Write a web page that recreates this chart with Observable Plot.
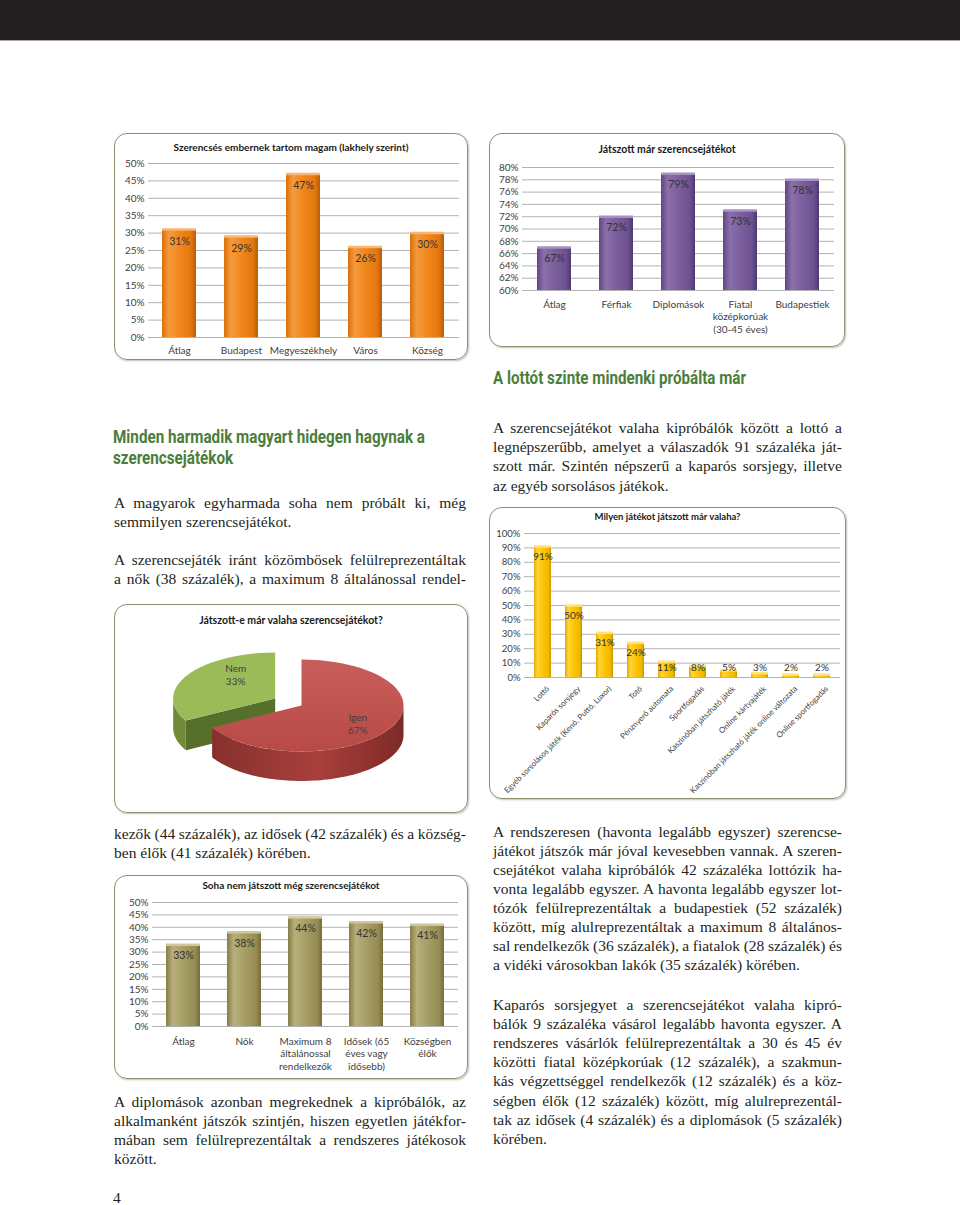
<!DOCTYPE html>
<html><head><meta charset="utf-8">
<script src="https://cdn.jsdelivr.net/npm/d3@7"></script>
<script src="https://cdn.jsdelivr.net/npm/@observablehq/plot@0.6"></script>
<style>
html,body{margin:0;padding:0;background:#fff;}
#page{position:relative;width:960px;height:1205px;overflow:hidden;background:#fff;}
#topbar{position:absolute;left:0;top:0;width:960px;height:40px;background:#231f20;border-bottom:1px solid #aaa;}
.box{position:absolute;}
.frame{position:absolute;left:0;top:0;right:0;bottom:0;border:1.6px solid #8f8f6c;border-radius:13px;box-shadow:1px 1px 2px rgba(0,0,0,.25);}
.ctitle{position:absolute;left:0;right:0;text-align:center;font-family:Lato,sans-serif;font-weight:bold;color:#1a1a1a;line-height:14px;white-space:nowrap;}
.box svg{position:absolute;left:0;top:0;}
.heading{position:absolute;font-family:"Liberation Sans Narrow",Roboto,sans-serif;font-weight:bold;font-size:18px;color:#4c7d3a;line-height:21px;white-space:nowrap;transform-origin:0 0;}
.para{position:absolute;font-family:"Liberation Serif",serif;font-size:15.5px;line-height:19.2px;color:#231f20;}
.para div{white-space:nowrap;text-align:left;}
</style></head>
<body>
<svg width="0" height="0" style="position:absolute">
<defs>
<linearGradient id="gOrange" x1="0" x2="1" y1="0" y2="0">
<stop offset="0" stop-color="#d9700c"/><stop offset="0.2" stop-color="#f59a3c"/><stop offset="0.55" stop-color="#f08519"/><stop offset="0.85" stop-color="#e2780f"/><stop offset="1" stop-color="#b85c06"/></linearGradient>
<linearGradient id="gPurple" x1="0" x2="1" y1="0" y2="0">
<stop offset="0" stop-color="#5f4683"/><stop offset="0.2" stop-color="#8a6fab"/><stop offset="0.55" stop-color="#7a5e9c"/><stop offset="0.85" stop-color="#6c5090"/><stop offset="1" stop-color="#4f3a70"/></linearGradient>
<linearGradient id="gYellow" x1="0" x2="1" y1="0" y2="0">
<stop offset="0" stop-color="#e0aa00"/><stop offset="0.2" stop-color="#ffd43a"/><stop offset="0.55" stop-color="#fcc400"/><stop offset="0.85" stop-color="#f0b800"/><stop offset="1" stop-color="#c99400"/></linearGradient>
<linearGradient id="gOlive" x1="0" x2="1" y1="0" y2="0">
<stop offset="0" stop-color="#857c46"/><stop offset="0.2" stop-color="#b8b07c"/><stop offset="0.55" stop-color="#a59c63"/><stop offset="0.85" stop-color="#968d56"/><stop offset="1" stop-color="#756c3a"/></linearGradient>
<linearGradient id="gRedTop" x1="0" x2="0" y1="0" y2="1">
<stop offset="0" stop-color="#c85e5a"/><stop offset="1" stop-color="#b84a46"/></linearGradient>
<linearGradient id="gRedWall" x1="0" x2="1" y1="0" y2="0">
<stop offset="0" stop-color="#86302d"/><stop offset="0.55" stop-color="#a8403c"/><stop offset="1" stop-color="#7e2a27"/></linearGradient>
</defs></svg>
<div id="page"><div id="topbar"></div></div>
<script>
// ================= DATA =================
const c1Title = "Szerencsés embernek tartom magam (lakhely szerint)";
const c1Cats = ["Átlag", "Budapest", "Megyeszékhely", "Város", "Község"];
const c1Vals = [0.31, 0.29, 0.47, 0.26, 0.30];
const c1Ticks = [0, 0.05, 0.10, 0.15, 0.20, 0.25, 0.30, 0.35, 0.40, 0.45, 0.50];

const c2Title = "Játszott már szerencsejátékot";
const c2Cats = ["Átlag", "Férfiak", "Diplomások", "Fiatal\nközépkorúak\n(30-45 éves)", "Budapestiek"];
const c2Vals = [0.67, 0.72, 0.79, 0.73, 0.78];
const c2Ticks = [0.60, 0.62, 0.64, 0.66, 0.68, 0.70, 0.72, 0.74, 0.76, 0.78, 0.80];

const c3Title = "Játszott-e már valaha szerencsejátékot?";
const c3Cats = ["Igen", "Nem"];
const c3Vals = [0.67, 0.33];

const c4Title = "Milyen játékot játszott már valaha?";
const c4Cats = ["Lottó", "Kaparós sorsjegy", "Egyéb sorsolásos játék (Kenó, Puttó, Luxor)", "Totó",
  "Pénznyerő automata", "Sportfogadás", "Kaszinóban játszható játék", "Online kártyajáték",
  "Kaszinóban játszható játék online változata", "Online sportfogadás"];
const c4Vals = [0.91, 0.50, 0.31, 0.24, 0.11, 0.08, 0.05, 0.03, 0.02, 0.02];
const c4Ticks = [0, 0.1, 0.2, 0.3, 0.4, 0.5, 0.6, 0.7, 0.8, 0.9, 1.0];

const c5Title = "Soha nem játszott még  szerencsejátékot";
const c5Cats = ["Átlag", "Nők", "Maximum 8\náltalánossal\nrendelkezők", "Idősek (65\néves vagy\nidősebb)", "Községben\nélők"];
const c5Vals = [0.33, 0.38, 0.44, 0.42, 0.41];
const c5Ticks = [0, 0.05, 0.10, 0.15, 0.20, 0.25, 0.30, 0.35, 0.40, 0.45, 0.50];

const headLeft = ["Minden harmadik magyart hidegen hagynak a", "szerencsejátékok"];
const headRight = ["A lottót szinte mindenki próbálta már"];
const pL1 = ["A magyarok egyharmada soha nem próbált ki, még", "semmilyen szerencsejátékot."];
const pL2 = ["A szerencsejáték iránt közömbösek felülreprezentáltak", "a nők (38 százalék), a maximum 8 általánossal rendel-"];
const pL2b = ["kezők (44 százalék), az idősek (42 százalék) és a község-", "ben élők (41 százalék) körében."];
const pL3 = ["A diplomások azonban megrekednek a kipróbálók, az", "alkalmanként játszók szintjén, hiszen egyetlen játékfor-",
  "mában sem felülreprezentáltak a rendszeres játékosok", "között."];
const pR1 = ["A szerencsejátékot valaha kipróbálók között a lottó a", "legnépszerűbb, amelyet a válaszadók 91 százaléka ját-",
  "szott már. Szintén népszerű a kaparós sorsjegy, illetve", "az egyéb sorsolásos játékok."];
const pR2 = ["A rendszeresen (havonta legalább egyszer) szerencse-", "játékot játszók már jóval kevesebben vannak. A szeren-",
  "csejátékot valaha kipróbálók 42 százaléka lottózik ha-", "vonta legalább egyszer. A havonta legalább egyszer lot-",
  "tózók felülreprezentáltak a budapestiek (52 százalék)", "között, míg alulreprezentáltak a maximum 8 általános-",
  "sal rendelkezők (36 százalék), a fiatalok (28 százalék) és", "a vidéki városokban lakók (35 százalék) körében."];
const pR3 = ["Kaparós sorsjegyet a szerencsejátékot valaha kipró-", "bálók 9 százaléka vásárol legalább havonta egyszer. A",
  "rendszeres vásárlók felülreprezentáltak a 30 és 45 év", "közötti fiatal középkorúak (12 százalék), a szakmun-",
  "kás végzettséggel rendelkezők (12 százalék) és a köz-", "ségben élők (12 százalék) között, míg alulreprezentál-",
  "tak az idősek (4 százalék) és a diplomások (5 százalék)", "körében."];
const pageNum = "4";

// ================= HELPERS =================
const page = document.getElementById("page");
const pct = d3.format(".0%");

function makeBox(left, top, w, h) {
  const box = document.createElement("div");
  box.className = "box";
  Object.assign(box.style, {left: left + "px", top: top + "px", width: w + "px", height: h + "px"});
  const fr = document.createElement("div"); fr.className = "frame"; box.appendChild(fr);
  page.appendChild(box);
  return box;
}
function addTitle(box, title, titleY, titleSize) {
  const t = document.createElement("div");
  t.className = "ctitle"; t.textContent = title;
  t.style.top = (titleY - 7) + "px"; t.style.fontSize = titleSize + "px";
  box.appendChild(t);
}
function boxLabels(svg, name, fill, px, py) {
  svg.querySelectorAll(`g[aria-label="${name}"] text`).forEach(t => {
    const b = t.getBBox();
    const r = document.createElementNS("http://www.w3.org/2000/svg", "rect");
    r.setAttribute("x", b.x - px); r.setAttribute("y", b.y - py);
    r.setAttribute("width", b.width + 2 * px); r.setAttribute("height", b.height + 2 * py);
    r.setAttribute("fill", fill);
    if (t.getAttribute("transform")) r.setAttribute("transform", t.getAttribute("transform"));
    t.parentNode.insertBefore(r, t);
  });
}

function barChart(o) {
  const box = makeBox(o.left, o.top, o.w, o.h);
  const data = o.cats.map((c, i) => ({c, v: o.vals[i]}));
  const y0 = o.yDomain[0];
  const xLabels = o.rotate
    ? Plot.text(o.cats, {x: d => d, y: y0, rotate: -45, textAnchor: "end", dx: o.xdx, dy: o.xdy, fontSize: o.xfs, fill: "#404040"})
    : Plot.text(o.cats, {x: d => d, y: y0, dy: o.xdy, lineAnchor: "top", lineHeight: 1.22, fontSize: o.xfs, fill: "#404040"});
  const svg = Plot.plot({
    width: o.w, height: o.h,
    marginTop: o.mt, marginBottom: o.mb, marginLeft: o.ml, marginRight: o.mr,
    style: {fontFamily: "Lato, sans-serif", fontSize: o.fs + "px", color: "#404040", background: "transparent", overflow: "visible"},
    x: {type: "band", domain: o.cats, paddingInner: o.pad, paddingOuter: o.pad / 2, axis: null},
    y: {domain: o.yDomain, axis: null},
    marks: [
      Plot.ruleY(o.ticks, {stroke: "#b2b2b2", strokeWidth: 1}),
      Plot.text(o.ticks, {y: d => d, frameAnchor: "left", dx: -4, textAnchor: "end", text: d => pct(d), fill: "#404040", fontSize: o.tfs}),
      Plot.barY(data, {x: "c", y1: y0, y2: "v", fill: `url(#${o.grad})`}),
      Plot.tickY(data, {x: "c", y: "v", stroke: o.cap, strokeWidth: 2.5}),
      Plot.text(data, {x: "c", y: o.labelY ? (d => o.labelY(d.v)) : "v", dy: o.ldy, text: d => pct(d.v),
        fill: "#333", fontSize: o.lfs, ariaLabel: "vlabel"}),
      xLabels
    ]
  });
  box.appendChild(svg);
  boxLabels(svg, "vlabel", o.lbox, 2, -0.5);
  addTitle(box, o.title, o.titleY, o.titleSize);
}

// ================= CHARTS =================
barChart({left: 114, top: 133, w: 354, h: 227, mt: 30, mb: 23, ml: 34, mr: 9,
  cats: c1Cats, vals: c1Vals, ticks: c1Ticks, yDomain: [0, 0.5], pad: 0.45,
  grad: "gOrange", cap: "#f9b573", lbox: "#fbdcbc", ldy: 12, fs: 10, tfs: 10, lfs: 10.5, xfs: 10, xdy: 8,
  title: c1Title, titleY: 14, titleSize: 10});

barChart({left: 489, top: 133, w: 356, h: 214, mt: 34, mb: 57, ml: 33, mr: 11,
  cats: c2Cats, vals: c2Vals, ticks: c2Ticks, yDomain: [0.6, 0.8], pad: 0.45,
  grad: "gPurple", cap: "#a792c2", lbox: "#d9cde7", ldy: 11, fs: 10, tfs: 10, lfs: 10.5, xfs: 10, xdy: 9,
  title: c2Title, titleY: 16, titleSize: 10.5});

barChart({left: 489, top: 507, w: 357, h: 292, mt: 26, mb: 122, ml: 35, mr: 6,
  cats: c4Cats, vals: c4Vals, ticks: c4Ticks, yDomain: [0, 1], pad: 0.46,
  grad: "gYellow", cap: "#ffe37a", lbox: "#fff4a6", ldy: 0, labelY: v => Math.max(v - 0.07, 0.065),
  fs: 9.5, tfs: 9.5, lfs: 10, xfs: 7.9, rotate: true, xdx: 5, xdy: 10,
  title: c4Title, titleY: 10, titleSize: 9.5});

barChart({left: 114, top: 875, w: 354, h: 204, mt: 27, mb: 53, ml: 38, mr: 10,
  cats: c5Cats, vals: c5Vals, ticks: c5Ticks, yDomain: [0, 0.5], pad: 0.44,
  grad: "gOlive", cap: "#cfc79b", lbox: "#ece9d3", ldy: 11, fs: 10, tfs: 10, lfs: 10.5, xfs: 10, xdy: 10,
  title: c5Title, titleY: 10, titleSize: 10});

// ---- pie (3D) ----
(function () {
  const W = 354, Hh = 209, R = 102, cx = 187, cy = 101;
  const K = 0.45, DEPTH = 0.29, EXP = 0.3;
  const box = makeBox(114, 604, W, Hh);
  const arcs = d3.pie().sort(null)(c3Vals);
  const pt = (a, f) => [Math.sin(a) * f, -Math.cos(a) * f * K];
  const arcPts = (a0, a1, ox, oy, dz) => {
    const n = Math.max(2, Math.ceil((a1 - a0) / 0.03));
    return d3.range(n + 1).map(i => { const a = a0 + (a1 - a0) * i / n; const p = pt(a, 1); return {x: p[0] + ox, y: p[1] + oy + dz}; });
  };
  const colors = {Igen: {top: "url(#gRedTop)", wall: "url(#gRedWall)", face: "#8b302d", lbl: "#eec6c4"},
                  Nem: {top: "#9bbb59", wall: "#6f8b37", face: "#566f2b", lbl: "#dfe9cb"}};
  const lblAdj = {Igen: {f: 0.64, dy: 0.03}, Nem: {f: 0.45, dy: -0.13}};
  const layers = {};
  const labels = [];
  arcs.forEach((a, i) => {
    const cat = c3Cats[i];
    const mid = (a.startAngle + a.endAngle) / 2;
    const exploded = i === 1;
    const ox = exploded ? Math.sin(mid) * EXP : 0;
    const oy = exploded ? -Math.cos(mid) * EXP * K : 0;
    const L = [];
    if (Math.cos(a.startAngle) < 0 && Math.sin(a.startAngle) < 0) {
      const p = pt(a.startAngle, 1);
      L.push({fill: colors[cat].face, pts: [{x: ox, y: oy}, {x: p[0] + ox, y: p[1] + oy}, {x: p[0] + ox, y: p[1] + oy + DEPTH}, {x: ox, y: oy + DEPTH}]});
    }
    const f0 = Math.max(a.startAngle, Math.PI / 2), f1 = Math.min(a.endAngle, 3 * Math.PI / 2);
    if (f1 > f0) {
      L.push({fill: colors[cat].wall, pts: arcPts(f0, f1, ox, oy, 0).concat(arcPts(f0, f1, ox, oy, DEPTH).reverse())});
    }
    L.push({fill: colors[cat].top, pts: [{x: ox, y: oy}].concat(arcPts(a.startAngle, a.endAngle, ox, oy, 0), [{x: ox, y: oy}])});
    layers[cat] = L;
    const adj = lblAdj[cat];
    const lp = pt(mid, adj.f);
    labels.push({x: lp[0] + ox, y: lp[1] + oy + adj.dy, text: `${cat}\n${pct(a.data)}`, cat});
  });
  const order = ["Nem", "Igen"];
  const polyMarks = [];
  order.forEach(cat => layers[cat].forEach(l => polyMarks.push(Plot.line(l.pts, {x: "x", y: "y", fill: l.fill, stroke: "none", curve: "linear"}))));
  const svg = Plot.plot({
    width: W, height: Hh, margin: 0, marginTop: 0, marginBottom: 0, marginLeft: 0, marginRight: 0,
    style: {fontFamily: "Lato, sans-serif", fontSize: "10px", background: "transparent", overflow: "visible"},
    x: {domain: [-cx / R, (W - cx) / R], axis: null},
    y: {domain: [-cy / R, (Hh - cy) / R], reverse: true, axis: null},
    marks: [
      ...polyMarks,
      Plot.text(labels.filter(d => d.cat === "Nem"), {x: "x", y: "y", text: "text", fill: "#404040", lineHeight: 1.25, ariaLabel: "lblNem"}),
      Plot.text(labels.filter(d => d.cat === "Igen"), {x: "x", y: "y", text: "text", fill: "#404040", lineHeight: 1.25, ariaLabel: "lblIgen"})
    ]
  });
  box.appendChild(svg);
  boxLabels(svg, "lblNem", colors.Nem.lbl, 2, 0);
  boxLabels(svg, "lblIgen", colors.Igen.lbl, 2, 0);
  addTitle(box, c3Title, 16, 10.5);
})();

// ================= TEXT =================
function heading(left, centerY, lines, targetW) {
  const d = document.createElement("div");
  d.className = "heading";
  d.style.left = left + "px"; d.style.top = (centerY - 11) + "px";
  d.innerHTML = lines.map(l => `<span>${l}</span>`).join("<br>");
  page.appendChild(d);
  const w = d.querySelector("span").getBoundingClientRect().width;
  d.style.transform = `scaleX(${targetW / w})`;
}
// justify each line exactly to the column width (except paragraph-final lines)
function para(left, firstCenter, width, lines, lineH, lastJustified) {
  const d = document.createElement("div");
  d.className = "para";
  Object.assign(d.style, {left: left + "px", top: (firstCenter - 10.5) + "px", width: width + "px"});
  if (lineH) d.style.lineHeight = lineH + "px";
  page.appendChild(d);
  lines.forEach((l, i) => {
    const r = document.createElement("div");
    const s = document.createElement("span");
    s.textContent = l;
    r.appendChild(s);
    d.appendChild(r);
    const isLast = i === lines.length - 1 && !lastJustified;
    const spaces = (l.match(/ /g) || []).length;
    const w = s.getBoundingClientRect().width;
    if ((!isLast || w > width) && spaces > 0) {
      r.style.wordSpacing = ((width - w) / spaces) + "px";
    }
  });
}
heading(113, 437, headLeft, 312);
heading(493, 378, headRight, 253);
para(114, 503, 352, pL1, 19.5);
para(114, 560, 352, pL2, 19.5, true);
para(114, 834, 352, pL2b, 19);
para(114, 1102, 352, pL3, 19);
para(493, 428, 349, pR1, 19.4);
para(493, 832, 349, pR2, 19.1);
para(493, 1005, 349, pR3, 19.2);
const pn = document.createElement("div");
pn.className = "para"; pn.textContent = pageNum;
Object.assign(pn.style, {left: "113px", top: "1188px"});
page.appendChild(pn);
</script>
</body></html>
